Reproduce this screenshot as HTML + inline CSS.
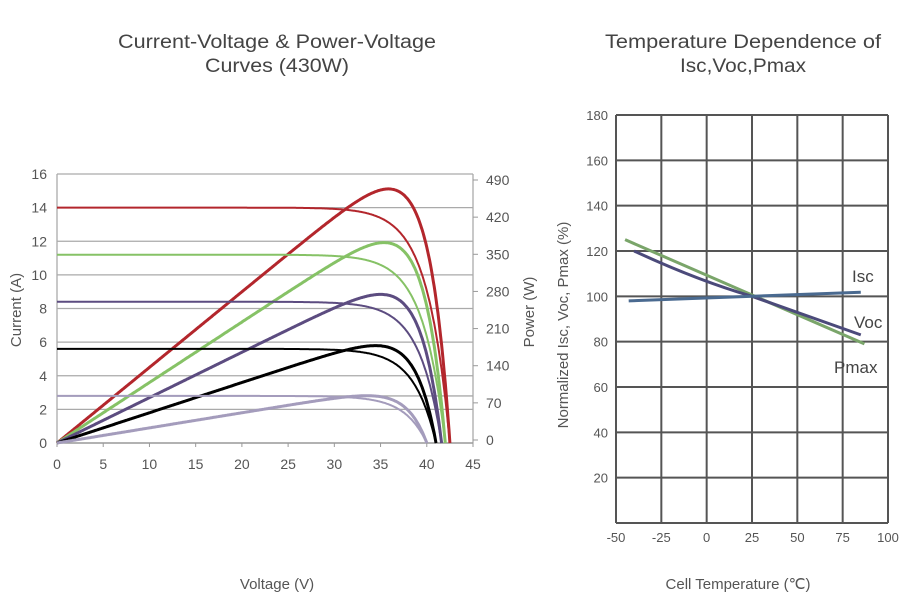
<!DOCTYPE html>
<html><head><meta charset="utf-8"><style>
html,body{margin:0;padding:0;background:#fff;}
svg{display:block;font-family:"Liberation Sans",Arial,sans-serif;}
</style></head><body>
<svg id="s" width="909" height="606" viewBox="0 0 909 606" xmlns="http://www.w3.org/2000/svg">
<g fill="#444" font-size="19" text-anchor="middle" font-family="'Liberation Sans Narrow','Liberation Sans',sans-serif">
<text x="277" y="48" textLength="318" lengthAdjust="spacingAndGlyphs">Current-Voltage &amp; Power-Voltage</text>
<text x="277" y="72" textLength="144" lengthAdjust="spacingAndGlyphs">Curves (430W)</text>
<text x="743" y="48" textLength="276" lengthAdjust="spacingAndGlyphs">Temperature Dependence of</text>
<text x="743" y="72" textLength="126" lengthAdjust="spacingAndGlyphs">Isc,Voc,Pmax</text>
</g>
<g id="left"></g>
<g id="right"></g>
<g fill="#555" font-size="15">
<text x="277" y="589" text-anchor="middle">Voltage (V)</text>
<text x="738" y="589" text-anchor="middle">Cell Temperature (℃)</text>
<text transform="translate(21,310) rotate(-90)" text-anchor="middle">Current (A)</text>
<text transform="translate(534,312) rotate(-90)" text-anchor="middle">Power (W)</text>
<text transform="translate(568,325) rotate(-90)" text-anchor="middle">Normalized Isc, Voc, Pmax (%)</text>
</g>
<g fill="#444" font-size="17">
<text x="852" y="282">Isc</text>
<text x="854" y="328">Voc</text>
<text x="834" y="373">Pmax</text>
</g>
</svg>
<script>
var NS="http://www.w3.org/2000/svg";
function el(p,t,a,txt){var e=document.createElementNS(NS,t);for(var k in a)e.setAttribute(k,a[k]);if(txt!==undefined)e.textContent=txt;p.appendChild(e);return e;}
var L=document.getElementById('left');
var x0=57,x1=473,y0=443,yt=174;
function X(v){return x0+v*(x1-x0)/45;}
function Y(i){return y0-i*(y0-yt)/16;}
// grid
for(var i=2;i<=16;i+=2){el(L,'line',{x1:x0,x2:x1,y1:Y(i),y2:Y(i),stroke:'#aaa','stroke-width':1.3});}
el(L,'line',{x1:x0,x2:x1,y1:Y(2.8),y2:Y(2.8),stroke:'#aaa','stroke-width':1.3});
el(L,'line',{x1:x0,x2:x0,y1:yt,y2:y0,stroke:'#aaa','stroke-width':1.3});
el(L,'line',{x1:x1,x2:x1,y1:yt,y2:y0,stroke:'#aaa','stroke-width':1.3});
el(L,'line',{x1:x0,x2:x1,y1:y0,y2:y0,stroke:'#999','stroke-width':1.5});
for(var i=0;i<=16;i+=2){el(L,'text',{x:x0-10,y:Y(i)+5,'text-anchor':'end','font-size':14,fill:'#555'},i);}
for(var v=0;v<=45;v+=5){el(L,'text',{x:X(v),y:469,'text-anchor':'middle','font-size':14,fill:'#555'},v);
 el(L,'line',{x1:X(v),x2:X(v),y1:y0,y2:y0+4,stroke:'#999'});}
var pw=[0,70,140,210,280,350,420,490];
for(var k=0;k<pw.length;k++){var yy=440-pw[k]*0.5306;el(L,'text',{x:486,y:yy+5,'font-size':14,fill:'#555'},pw[k]);
 el(L,'line',{x1:x1,x2:x1+5,y1:yy,y2:yy,stroke:'#999'});}
var cs=[[14,42.5,'#b3262c'],[11.2,42,'#86c266'],[8.4,41.6,'#5c4c80'],[5.6,41,'#000'],[2.8,40,'#a49cbc']];
var ps=0.5306*(443/440);
cs.forEach(function(c){
 var isc=c[0],voc=c[1],a=2.4,d1='',d2='';
 for(var v=0;v<=voc+0.001;v+=0.1){var I=isc*(1-Math.exp((v-voc)/a));if(I<0)I=0;var P=v*I;
  d1+=(v==0?'M':'L')+X(v).toFixed(1)+','+Y(I).toFixed(1);
  d2+=(v==0?'M':'L')+X(v).toFixed(1)+','+(443-P*0.54).toFixed(1);}
 d1+='L'+X(voc).toFixed(1)+','+Y(0);d2+='L'+X(voc).toFixed(1)+','+y0;
 el(L,'path',{d:d1,fill:'none',stroke:c[2],'stroke-width':2});
 el(L,'path',{d:d2,fill:'none',stroke:c[2],'stroke-width':3});
});
var R=document.getElementById('right');
function TX(t){return 616+(t+50)*272/150;}
function TY(p){return 523-p*408/180;}
for(var p=20;p<=180;p+=20){el(R,'line',{x1:616,x2:888,y1:TY(p),y2:TY(p),stroke:'#555','stroke-width':2});
 el(R,'text',{x:608,y:TY(p)+5,'text-anchor':'end','font-size':13,fill:'#555'},p);}
el(R,'line',{x1:616,x2:888,y1:523,y2:523,stroke:'#555','stroke-width':2});
for(var t=-50;t<=100;t+=25){el(R,'line',{x1:TX(t),x2:TX(t),y1:115,y2:523,stroke:'#555','stroke-width':2});
 el(R,'text',{x:TX(t),y:542,'text-anchor':'middle','font-size':13,fill:'#555'},t);}
el(R,'path',{d:'M'+TX(-45)+','+TY(125)+'L'+TX(87)+','+TY(79),stroke:'#7aa56a','stroke-width':3,fill:'none'});
el(R,'path',{d:'M'+TX(-40)+','+TY(120)+'Q'+TX(-5)+','+TY(107)+' '+TX(25)+','+TY(100)+'L'+TX(85)+','+TY(83),stroke:'#4b4a7a','stroke-width':3,fill:'none'});
el(R,'path',{d:'M'+TX(-43)+','+TY(98)+'L'+TX(85)+','+TY(101.8),stroke:'#4a6a90','stroke-width':3,fill:'none'});
</script>
</body></html>
